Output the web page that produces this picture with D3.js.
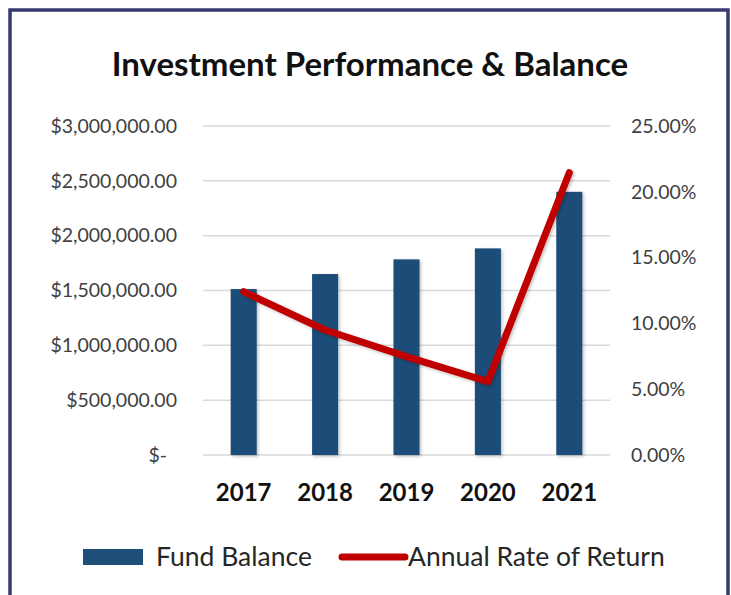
<!DOCTYPE html>
<html>
<head>
<meta charset="utf-8">
<script src="https://cdn.jsdelivr.net/npm/d3@7"></script>
<style>
  body { margin: 0; background: #fff; }
  text { font-family: Lato, "Open Sans", sans-serif; }
</style>
</head>
<body>
<script>
var years = ["2017", "2018", "2019", "2020", "2021"];
var fundBalance = [1513000, 1650000, 1784000, 1884000, 2400000];
var rateOfReturn = [0.1241, 0.0950, 0.0747, 0.0557, 0.2145];
var balanceTicks = [0, 500000, 1000000, 1500000, 2000000, 2500000, 3000000];
var rateTicks = [0, 0.05, 0.10, 0.15, 0.20, 0.25];

var width = 731, height = 595;
var plot = {left: 203, right: 610, top: 126, bottom: 455};

var svg = d3.select("body").append("svg")
    .attr("width", width)
    .attr("height", height);

var defs = svg.append("defs");
var shadow = defs.append("filter").attr("id", "shadow")
    .attr("x", "-20%").attr("y", "-20%").attr("width", "140%").attr("height", "140%");
shadow.append("feDropShadow")
    .attr("dx", 1.5).attr("dy", 1.5).attr("stdDeviation", 1.5)
    .attr("flood-color", "#000").attr("flood-opacity", 0.25);

// frame
svg.append("rect")
    .attr("x", 10).attr("y", 10)
    .attr("width", 718).attr("height", 600)
    .attr("fill", "none")
    .attr("stroke", "#363a6e")
    .attr("stroke-width", 3.5);

svg.append("text")
    .attr("x", 370).attr("y", 76)
    .attr("text-anchor", "middle")
    .style("font-size", "33px")
    .style("font-weight", "bold")
    .attr("fill", "#111")
    .text("Investment Performance & Balance");

var x = d3.scaleBand()
    .domain(years)
    .range([plot.left, plot.right])
    .paddingInner(0.68)
    .paddingOuter(0.34);

var yLeft = d3.scaleLinear()
    .domain([0, 3000000])
    .range([plot.bottom, plot.top]);

var yRight = d3.scaleLinear()
    .domain([0, 0.25])
    .range([plot.bottom, plot.top]);

// gridlines
svg.append("g")
  .selectAll("line")
  .data(balanceTicks)
  .enter().append("line")
    .attr("x1", plot.left).attr("x2", plot.right)
    .attr("y1", function(d){ return yLeft(d); })
    .attr("y2", function(d){ return yLeft(d); })
    .attr("stroke", "#d9d9d9")
    .attr("stroke-width", 1.5);

var moneyFmt = d3.format("$,.2f");

var leftAxis = svg.append("g")
    .attr("transform", "translate(177,0)")
    .call(d3.axisLeft(yLeft).tickValues(balanceTicks).tickSize(0).tickPadding(0)
      .tickFormat(function(d){ return d === 0 ? "$-" : moneyFmt(d); }));
leftAxis.select(".domain").remove();
leftAxis.selectAll("text")
    .style("font-size", "19.5px")
    .attr("fill", "#404040")
    .attr("dx", function(d){ return d === 0 ? -10 : 0; });

var rightAxis = svg.append("g")
    .attr("transform", "translate(631,0)")
    .call(d3.axisRight(yRight).tickValues(rateTicks).tickSize(0).tickPadding(0)
      .tickFormat(d3.format(".2%")));
rightAxis.select(".domain").remove();
rightAxis.selectAll("text")
    .style("font-size", "19.5px")
    .attr("fill", "#404040");

// bars
svg.append("g")
  .selectAll("rect")
  .data(fundBalance)
  .enter().append("rect")
    .attr("x", function(d, i){ return x(years[i]); })
    .attr("y", function(d){ return yLeft(d); })
    .attr("width", x.bandwidth())
    .attr("height", function(d){ return plot.bottom - yLeft(d); })
    .attr("fill", "#1f4e79")
    .attr("filter", "url(#shadow)");

// line
var line = d3.line()
    .x(function(d, i){ return x(years[i]) + x.bandwidth() / 2; })
    .y(function(d){ return yRight(d); });

svg.append("path")
    .datum(rateOfReturn)
    .attr("d", line)
    .attr("fill", "none")
    .attr("stroke", "#c00000")
    .attr("stroke-width", 7)
    .attr("stroke-linecap", "round")
    .attr("stroke-linejoin", "round")
    .attr("filter", "url(#shadow)");

// x labels
var xAxis = svg.append("g")
    .attr("transform", "translate(0,501)")
    .call(d3.axisBottom(x).tickSize(0).tickPadding(0));
xAxis.select(".domain").remove();
xAxis.selectAll("text")
    .attr("dy", "0")
    .style("font-size", "24px")
    .style("font-weight", "bold")
    .attr("fill", "#111");

// legend
var legend = svg.append("g");
legend.append("rect")
    .attr("x", 83).attr("y", 549)
    .attr("width", 60).attr("height", 16)
    .attr("fill", "#1f4e79");
legend.append("text")
    .attr("x", 156).attr("y", 566)
    .style("font-size", "26.5px")
    .attr("fill", "#262626")
    .text("Fund Balance");
legend.append("line")
    .attr("x1", 342).attr("x2", 405)
    .attr("y1", 557).attr("y2", 557)
    .attr("stroke", "#c00000")
    .attr("stroke-width", 7)
    .attr("stroke-linecap", "round");
legend.append("text")
    .attr("x", 408).attr("y", 566)
    .style("font-size", "26.5px")
    .attr("fill", "#262626")
    .text("Annual Rate of Return");
</script>
</body>
</html>
